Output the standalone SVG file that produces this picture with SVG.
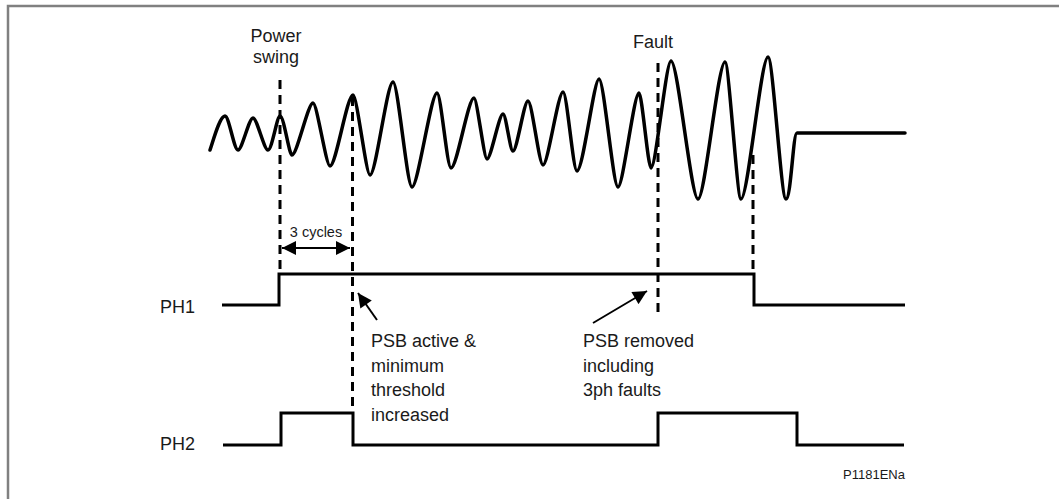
<svg xmlns="http://www.w3.org/2000/svg" width="1059" height="499" viewBox="0 0 1059 499">
  <style>
    .lbl { font-family: "Liberation Sans", Arial, sans-serif; font-size: 18px; fill: #1a1a1a; }
    .sm { font-family: "Liberation Sans", Arial, sans-serif; font-size: 14.5px; fill: #1a1a1a; }
    .tiny { font-family: "Liberation Sans", Arial, sans-serif; font-size: 13px; fill: #1a1a1a; }
    .sig { fill: none; stroke: #000; stroke-width: 3.5; stroke-linejoin: round; stroke-linecap: round; }
    .lvl { fill: none; stroke: #000; stroke-width: 3; stroke-linejoin: miter; }
    .dash { fill: none; stroke: #000; stroke-width: 3; stroke-dasharray: 9 6; }
    .arr { fill: none; stroke: #000; stroke-width: 2; }
  </style>
  <defs>
    <marker id="head" viewBox="0 0 10 10" refX="10" refY="5" markerWidth="8" markerHeight="7" markerUnits="strokeWidth" orient="auto-start-reverse">
      <path d="M0,0 L10,5 L0,10 Z" fill="#000"/>
    </marker>
  </defs>
  <rect width="1059" height="499" fill="#fff"/>
  <g id="border">
    <path d="M8,499 V6 H1059" fill="none" stroke="#808080" stroke-width="2.5"/>
  </g>
  <g id="waveform">
    <path class="sig" d="M210,150 C214,138 220,116 225,116 C229,116 234,150 238,150 C242,150 249,118 253,118 C257,118 264,150 268,150 C272,150 277,116 280,116 C284,116 289,155 292,155 C297,155 308,103 313,103 C317,103 326,166 330,166 C336,166 347,95 353,95 C357,95 366,175 370,175 C376,175 387,82 393,82 C398,82 407,187 412,187 C418,187 431,93 437,93 C441,93 447,168 451,168 C457,168 468,98 474,98 C477,98 484,159 487,159 C491,159 499,114 503,114 C506,114 510,151 513,151 C517,151 524,101 528,101 C532,101 539,165 543,165 C548,165 558,92 563,92 C567,92 573,171 577,171 C583,171 594,79 599,79 C604,79 613,187 618,187 C623,187 634,93 639,93 C642,93 648,168 651,168 C656,168 666,61 671,61 C678,61 691,199 698,199 C705,199 718,62 725,62 C729,62 737,199 741,199 C748,199 761,57 768,57 C773,57 781,199 786,199 C791,199 793,133 797,133 L905,133"/>
  </g>
  <g id="connectors">
    <line class="dash" x1="280" y1="80" x2="280" y2="274"/>
    <line class="dash" x1="352.5" y1="97" x2="352.5" y2="413"/>
    <line class="dash" x1="658" y1="63" x2="658" y2="315"/>
    <line class="dash" x1="753" y1="155" x2="753" y2="274"/>
    <line class="arr" x1="282" y1="248" x2="350" y2="248" marker-start="url(#head)" marker-end="url(#head)"/>
    <line class="arr" x1="377" y1="320" x2="358" y2="293" marker-end="url(#head)"/>
    <line class="arr" x1="593" y1="323" x2="647" y2="291" marker-end="url(#head)"/>
  </g>
  <g id="ph1">
    <text class="lbl" x="160" y="313">PH1</text>
    <path class="lvl" d="M222,305 H279 V274 H754 V305 H905"/>
  </g>
  <g id="ph2">
    <text class="lbl" x="160" y="450">PH2</text>
    <path class="lvl" d="M223,445 H281 V413 H353 V445 H658 V413 H797 V445 H904"/>
  </g>
  <g id="label-power-swing">
    <text class="lbl" x="276" y="42" text-anchor="middle">Power</text>
    <text class="lbl" x="276" y="63" text-anchor="middle">swing</text>
  </g>
  <g id="label-fault">
    <text class="lbl" x="633" y="48">Fault</text>
  </g>
  <g id="label-cycles">
    <text class="sm" x="316" y="237" text-anchor="middle">3 cycles</text>
  </g>
  <g id="label-psb-active">
    <text class="lbl" x="371" y="347">PSB active &amp;</text>
    <text class="lbl" x="371" y="372">minimum</text>
    <text class="lbl" x="371" y="396">threshold</text>
    <text class="lbl" x="371" y="421">increased</text>
  </g>
  <g id="label-psb-removed">
    <text class="lbl" x="583" y="347">PSB removed</text>
    <text class="lbl" x="583" y="372">including</text>
    <text class="lbl" x="583" y="396">3ph faults</text>
  </g>
  <g id="label-ref">
    <text class="tiny" x="843" y="479">P1181ENa</text>
  </g>
</svg>
